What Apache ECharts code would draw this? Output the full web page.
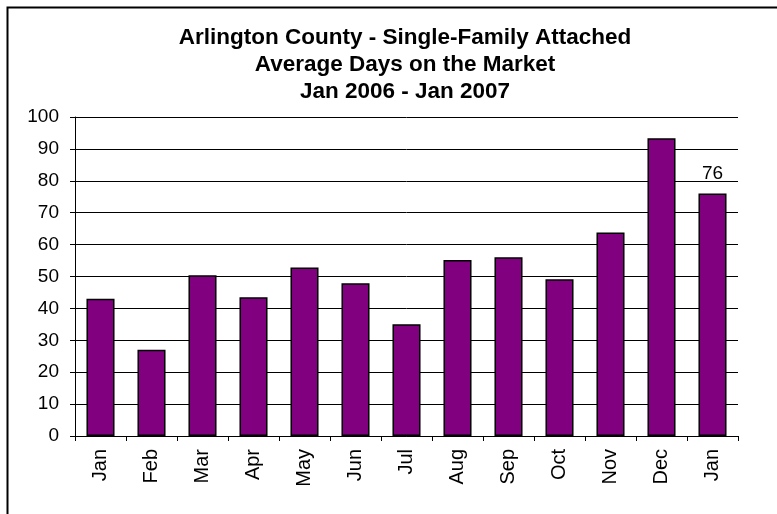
<!DOCTYPE html>
<html>
<head>
<meta charset="utf-8">
<script src="https://cdn.jsdelivr.net/npm/echarts@6/dist/echarts.min.js"></script>
<style>html,body{margin:0;padding:0;background:#fff}#c{width:777px;height:514px}</style>
</head>
<body>
<div id="c"></div>
<script>
var categories = ['Jan','Feb','Mar','Apr','May','Jun','Jul','Aug','Sep','Oct','Nov','Dec','Jan'];
var values = [43, 27, 50.4, 43.5, 52.8, 47.9, 35, 55.2, 56, 49.1, 63.8, 93.3, 76];
var labelledIndex = 12;
var labelText = '76';

var chart = echarts.init(document.getElementById('c'));
var seriesData = values.map(function (v, i) {
  if (i === labelledIndex) {
    return { value: v, label: { show: true, position: 'top', distance: 10, formatter: labelText,
      fontFamily: 'Liberation Sans, Arial', fontSize: 19, color: '#000' } };
  }
  return v;
});
chart.setOption({
  animation: false,
  backgroundColor: '#fff',
  graphic: [{
    type: 'rect', left: 5, top: 5, shape: { width: 800, height: 600 },
    style: { fill: 'none', stroke: '#000', lineWidth: 2 }, z: 100
  }],
  title: {
    text: 'Arlington County - Single-Family Attached\nAverage Days on the Market\nJan 2006 - Jan 2007',
    left: 400, textAlign: 'center', top: 19,
    textStyle: { fontFamily: 'Liberation Sans, Arial', fontWeight: 'bold', fontSize: 22.5, lineHeight: 27, color: '#000' }
  },
  grid: { left: 75, right: 39, top: 117, bottom: 78 },
  xAxis: {
    type: 'category', data: categories,
    axisLine: { lineStyle: { color: '#000', width: 1 } },
    axisTick: { show: true, length: 5, lineStyle: { color: '#000' } },
    axisLabel: { rotate: 90, margin: 13, fontFamily: 'Liberation Sans, Arial', fontSize: 20, color: '#000' }
  },
  yAxis: {
    type: 'value', min: 0, max: 100, interval: 10,
    axisLine: { show: true, lineStyle: { color: '#000', width: 1 } },
    axisTick: { show: true, length: 5, lineStyle: { color: '#000' } },
    axisLabel: { margin: 16, fontFamily: 'Liberation Sans, Arial', fontSize: 19, color: '#000' },
    splitLine: { show: true, lineStyle: { color: '#000', width: 1 } }
  },
  series: [{
    type: 'bar', data: seriesData, barCategoryGap: '45%',
    itemStyle: { color: '#800080', borderColor: '#000', borderWidth: 1.5 }
  }]
});
</script>
</body>
</html>
